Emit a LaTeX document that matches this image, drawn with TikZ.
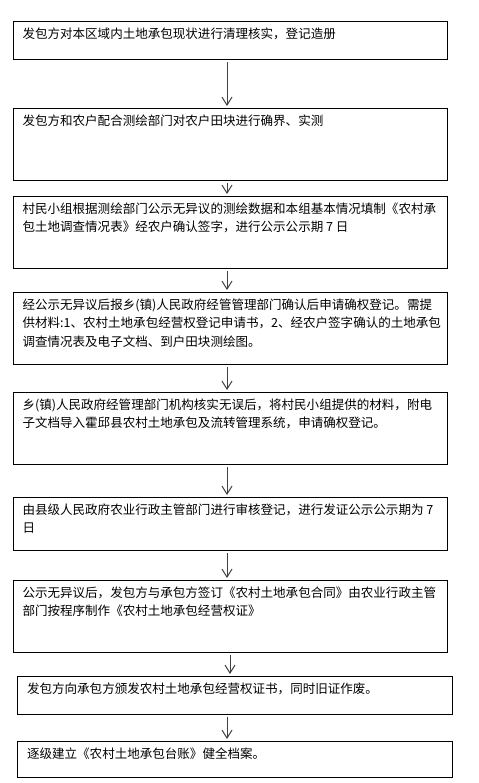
\documentclass[tikz,border=0pt]{standalone}
\usepackage{fontspec}
\setmainfont{Noto Sans CJK SC}
\usepackage{tikz}
\usetikzlibrary{arrows.meta, positioning}
\tikzstyle{stepbox} = [rectangle, minimum width=326pt, inner xsep=7pt, inner ysep=4.5pt, draw=black, line width=0.75pt, fill=white, font=\fontsize{9.4pt}{13.9pt}\selectfont]
\tikzstyle{arrow} = [line width=0.75pt, draw=black!75, -{Straight Barb[length=6pt,width=7.5pt]}, shorten <=1.5pt, shorten >=1.5pt]
\newcommand{\steptext}[2]{\parbox[t][#1][t]{312pt}{\raggedright #2}}

\begin{document}
\begin{tikzpicture}
        \useasboundingbox (0,0) rectangle (359.25pt,-587.25pt);
        \coordinate (spine) at (170.25pt,0);
        \coordinate (spinetwo) at (172.5pt,0);

        \node (b1) [stepbox, anchor=north] at (172.9pt,-15.75pt) {\steptext{19.5pt}{发包方对本区域内土地承包现状进行清理核实，登记造册}};
        \node (b2) [stepbox, below=36pt of b1] {\steptext{45pt}{发包方和农户配合测绘部门对农户田块进行确界、实测}};
        \node (b3) [stepbox, below=11.25pt of b2] {\steptext{45pt}{村民小组根据测绘部门公示无异议的测绘数据和本组基本情况填制《农村承\\包土地调查情况表》经农户确认签字，进行公示公示期 7 日}};
        \node (b4) [stepbox, below=17.25pt of b3] {\steptext{45pt}{经公示无异议后报乡(镇)人民政府经管管理部门确认后申请确权登记。需提\\供材料:1、农村土地承包经营权登记申请书，2、经农户签字确认的土地承包\\调查情况表及电子文档、到户田块测绘图。}};
        \node (b5) [stepbox, below=20.25pt of b4] {\steptext{45pt}{乡(镇)人民政府经管理部门机构核实无误后，将村民小组提供的材料，附电\\子文档导入霍邱县农村土地承包及流转管理系统，申请确权登记。}};
        \node (b6) [stepbox, below=24pt of b5] {\steptext{30.75pt}{由县级人民政府农业行政主管部门进行审核登记，进行发证公示公示期为 7\\日}};
        \node (b7) [stepbox, below=21.75pt of b6] {\steptext{45pt}{公示无异议后，发包方与承包方签订《农村土地承包合同》由农业行政主管\\部门按程序制作《农村土地承包经营权证》}};
        \node (b8) [stepbox, below=17.25pt of b7, xshift=3.4pt] {\steptext{19.5pt}{发包方向承包方颁发农村土地承包经营权证书，同时旧证作废。}};
        \node (b9) [stepbox, below=19.5pt of b8] {\steptext{18pt}{逐级建立《农村土地承包台账》健全档案。}};

        \draw [arrow] (b1.south -| spine) -- (b2.north -| spine);
        \draw [arrow] (b2.south -| spine) -- (b3.north -| spine);
        \draw [arrow] (b3.south -| spine) -- (b4.north -| spine);
        \draw [arrow] (b4.south -| spine) -- (b5.north -| spine);
        \draw [arrow] (b5.south -| spine) -- (b6.north -| spine);
        \draw [arrow] (b6.south -| spine) -- (b7.north -| spine);
        \draw [arrow] (b7.south -| spinetwo) -- (b8.north -| spinetwo);
        \draw [arrow] (b8.south -| spine) -- (b9.north -| spine);
\end{tikzpicture}
\end{document}
